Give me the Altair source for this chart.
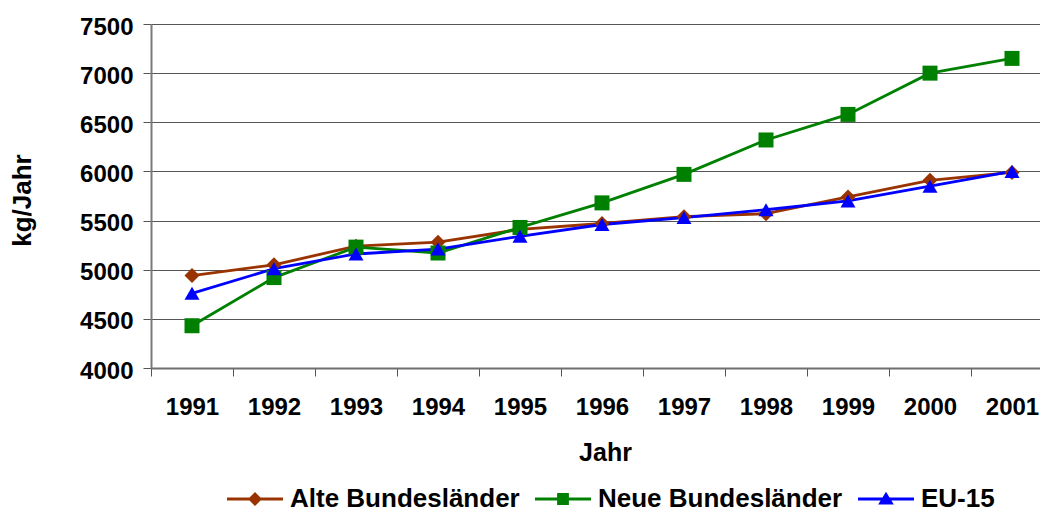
import altair as alt
import pandas as pd

# ---- data ----
years = [1991, 1992, 1993, 1994, 1995, 1996, 1997, 1998, 1999, 2000, 2001]
alte = [4940, 5050, 5240, 5280, 5410, 5470, 5540, 5570, 5740, 5910, 5990]
neue = [4430, 4920, 5230, 5170, 5430, 5680, 5970, 6320, 6580, 7000, 7150]
eu15 = [4760, 5010, 5160, 5210, 5340, 5460, 5530, 5610, 5700, 5850, 6000]

series_names = ["Alte Bundesländer", "Neue Bundesländer", "EU-15"]
series_values = [alte, neue, eu15]
series_colors = ["#993300", "#008000", "#0000FF"]
marker_shapes = ["diamond", "square", "triangle-up"]
y_ticks = [4000, 4500, 5000, 5500, 6000, 6500, 7000, 7500]

# legend glyphs: line with marker (unit box -1..1)
legend_glyphs = [
    "M-1,-0.055L1,-0.055L1,0.055L-1,0.055Z M0,-0.25L0.25,0L0,0.25L-0.25,0Z",
    "M-1,-0.055L1,-0.055L1,0.055L-1,0.055Z M-0.21,-0.21L0.21,-0.21L0.21,0.21L-0.21,0.21Z",
    "M-1,-0.055L1,-0.055L1,0.055L-1,0.055Z M0,-0.26L0.28,0.2L-0.28,0.2Z",
]
legend_x = [76, 384, 707]   # legend entry positions (layout)

rows = []
for name, vals in zip(series_names, series_values):
    for yr, v in zip(years, vals):
        rows.append({"Jahr": yr, "Wert": v, "Reihe": name})
df = pd.DataFrame(rows)
legend_df = pd.DataFrame({"Reihe": series_names})

FONT = "Liberation Sans"
PAD_L = 143
PLOT_W = 889
PLOT_H = 344
BAND = 82.0
x_scale = alt.Scale(domain=[1990.5, 1990.5 + PLOT_W / BAND], nice=False, zero=False)
y_scale = alt.Scale(domain=[4000, 7500], nice=False, zero=False)

x_enc = alt.X(
    "Jahr:Q",
    scale=x_scale,
    axis=alt.Axis(
        values=years, format="d", tickOffset=-BAND / 2, labelOffset=BAND / 2,
        labelFlush=False, labelOverlap=False, grid=False,
        tickSize=8, tickColor="#555555", tickWidth=1,
        domainColor="#6e6e6e", domainWidth=2,
        labelFont=FONT, labelFontSize=24, labelFontWeight="bold", labelColor="#000000",
        labelPadding=19,
        title="Jahr", titleFont=FONT, titleFontSize=25, titleFontWeight="bold",
        titleColor="#000000", titleX=454, titleY=92, titleAlign="center",
        titleBaseline="alphabetic", titleAngle=0,
    ),
)
y_enc = alt.Y(
    "Wert:Q",
    scale=y_scale,
    axis=alt.Axis(
        values=y_ticks, format="d", grid=True, gridColor="#555555", gridWidth=1,
        tickSize=8, tickColor="#555555", tickWidth=1,
        domainColor="#7a7a7a", domainWidth=2,
        labelFont=FONT, labelFontSize=24, labelFontWeight="bold", labelColor="#000000",
        labelPadding=10, labelOffset=3,
        title="kg/Jahr", titleFont=FONT, titleFontSize=26, titleFontWeight="bold",
        titleColor="#000000", titleX=-121, titleY=176, titleAngle=270,
        titleAlign="center", titleBaseline="alphabetic",
    ),
)

lines = alt.Chart(df).mark_line(strokeWidth=2.8).encode(
    x=x_enc,
    y=y_enc,
    stroke=alt.Stroke("Reihe:N", scale=alt.Scale(domain=series_names, range=series_colors),
                      legend=None),
)

point_layers = []
for name, col, shp in zip(series_names, series_colors, marker_shapes):
    point_layers.append(
        alt.Chart(df)
        .transform_filter(alt.datum.Reihe == name)
        .mark_point(filled=True, opacity=1, size=225, shape=shp, color=col)
        .encode(x=alt.X("Jahr:Q"), y=alt.Y("Wert:Q"))
    )

legend_layers = []
for name, col, glyph, lx in zip(series_names, series_colors, legend_glyphs, legend_x):
    legend_layers.append(
        alt.Chart(legend_df)
        .transform_filter(alt.datum.Reihe == name)
        .mark_point(filled=True, opacity=1, clip=True, color=col)
        .encode(
            x=alt.datum(1991),
            y=alt.datum(0),
            shape=alt.Shape(
                "Reihe:N",
                scale=alt.Scale(domain=[name], range=[glyph]),
                legend=alt.Legend(
                    orient="none", legendX=lx, legendY=447, direction="horizontal",
                    title=None, labelFont=FONT, labelFontSize=26, labelFontWeight="bold",
                    labelColor="#000000", labelLimit=400, symbolSize=3136,
                    symbolStrokeWidth=0, symbolFillColor=col, labelOffset=7,
                    padding=0, symbolOpacity=1,
                ),
            ),
        )
    )

chart = (
    alt.layer(lines, *point_layers, *legend_layers)
    .resolve_scale(shape="independent")
    .properties(
        width=PLOT_W, height=PLOT_H,
        autosize=alt.AutoSizeParams(type="none"),
        padding={"left": PAD_L, "top": 16, "right": 0, "bottom": 145},
        background="#ffffff",
    )
    .configure_view(stroke=None)
)

chart.save("out.html", embed_options={"renderer": "svg", "actions": False})
